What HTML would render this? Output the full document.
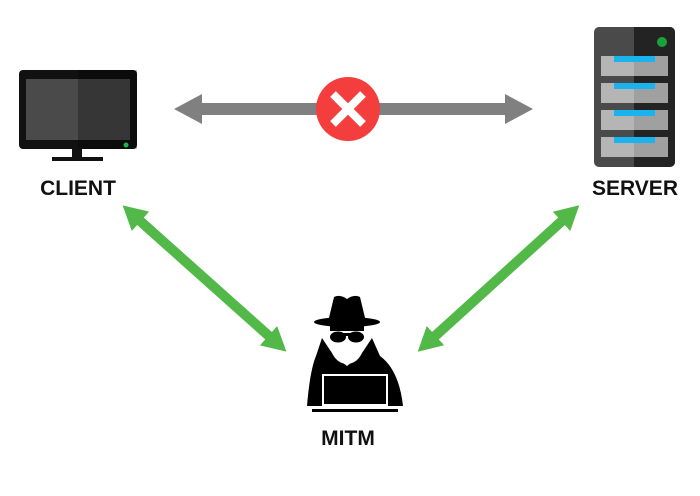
<!DOCTYPE html>
<html><head><meta charset="utf-8"><style>
html,body{margin:0;padding:0;background:#fff;}
svg{display:block;}
text{font-family:"Liberation Sans",Arial,sans-serif;font-weight:bold;fill:#111;}
</style></head><body>
<svg width="700" height="496" viewBox="0 0 700 496" xmlns="http://www.w3.org/2000/svg">
<defs>
<marker id="gh" markerUnits="userSpaceOnUse" markerWidth="30" markerHeight="32" refX="2" refY="16" orient="auto-start-reverse">
<path d="M0,1 L28,16 L0,31 Z" fill="#808080"/>
</marker>
<marker id="gr" markerUnits="userSpaceOnUse" markerWidth="26" markerHeight="28" refX="2" refY="14" orient="auto-start-reverse">
<path d="M0,1 L24,14 L0,27 Z" fill="#52b848"/>
</marker>
</defs>

<!-- monitor -->
<rect x="19" y="70" width="118" height="79" rx="4" fill="#111"/>
<rect x="26" y="79" width="52" height="61" fill="#4a4a4a"/>
<rect x="78" y="79" width="52" height="61" fill="#363636"/>
<rect x="78" y="70" width="59" height="79" fill="#000" opacity="0.25"/>
<rect x="78" y="79" width="52" height="61" fill="#363636"/>
<circle cx="126" cy="145" r="2.5" fill="#22b24c"/>
<rect x="72" y="149" width="10" height="9" fill="#111"/>
<rect x="52" y="157" width="51" height="4" fill="#111"/>
<text x="78" y="195" font-size="21" text-anchor="middle">CLIENT</text>

<!-- server -->
<rect x="594" y="27" width="81" height="140" rx="5" fill="#4a4a4a"/>
<path d="M634,27 H670 a5,5 0 0 1 5,5 V162 a5,5 0 0 1 -5,5 H634 Z" fill="#232323"/>
<circle cx="662" cy="42" r="5" fill="#1aa23a"/>
<g>
<rect x="601" y="56" width="33" height="20" fill="#b5b5b5"/><rect x="634" y="56" width="34" height="20" fill="#a0a0a0"/><rect x="614" y="56" width="41" height="6" fill="#1ab3ee"/>
<rect x="601" y="83" width="33" height="20" fill="#b5b5b5"/><rect x="634" y="83" width="34" height="20" fill="#a0a0a0"/><rect x="614" y="83" width="41" height="6" fill="#1ab3ee"/>
<rect x="601" y="110" width="33" height="20" fill="#b5b5b5"/><rect x="634" y="110" width="34" height="20" fill="#a0a0a0"/><rect x="614" y="110" width="41" height="6" fill="#1ab3ee"/>
<rect x="601" y="137" width="33" height="20" fill="#b5b5b5"/><rect x="634" y="137" width="34" height="20" fill="#a0a0a0"/><rect x="614" y="137" width="41" height="6" fill="#1ab3ee"/>
</g>
<text x="635" y="195" font-size="21" text-anchor="middle">SERVER</text>

<!-- gray arrow -->
<line x1="200" y1="109" x2="507" y2="109" stroke="#808080" stroke-width="12" marker-start="url(#gh)" marker-end="url(#gh)"/>
<circle cx="348" cy="109" r="32" fill="#f43d3d"/>
<path d="M333,94 L363,124 M363,94 L333,124" stroke="#fff" stroke-width="8"/>

<!-- green arrows -->
<line x1="139" y1="220" x2="270" y2="337" stroke="#52b848" stroke-width="10" marker-start="url(#gr)" marker-end="url(#gr)"/>
<line x1="563" y1="220" x2="434" y2="337" stroke="#52b848" stroke-width="10" marker-start="url(#gr)" marker-end="url(#gr)"/>

<!-- MITM -->
<path d="M322,338 L334,356 L347,366 L360,356 L372,338 L380,356 Q399,370 403,406 L307,406 Q310,370 316,356 Z" fill="#000"/>
<ellipse cx="347" cy="343" rx="17" ry="21" fill="#fff"/>
<rect x="330" y="322" width="34" height="9" fill="#000"/>
<ellipse cx="338" cy="337" rx="8" ry="5.5" fill="#000"/>
<ellipse cx="356" cy="337" rx="8" ry="5.5" fill="#000"/>
<rect x="336" y="333" width="22" height="3" fill="#000"/>
<ellipse cx="347" cy="322" rx="33" ry="5" fill="#000"/>
<path d="M328,322 L334,297 Q340,294 347,299 Q354,294 360,297 L366,322 Z" fill="#000"/>
<rect x="323" y="375" width="64" height="30" fill="#000" stroke="#fff" stroke-width="2"/>
<rect x="312" y="407" width="86" height="2" fill="#fff"/>
<rect x="312" y="409" width="86" height="3" fill="#000"/>
<text x="348" y="445" font-size="21" text-anchor="middle">MITM</text>
</svg>
</body></html>
